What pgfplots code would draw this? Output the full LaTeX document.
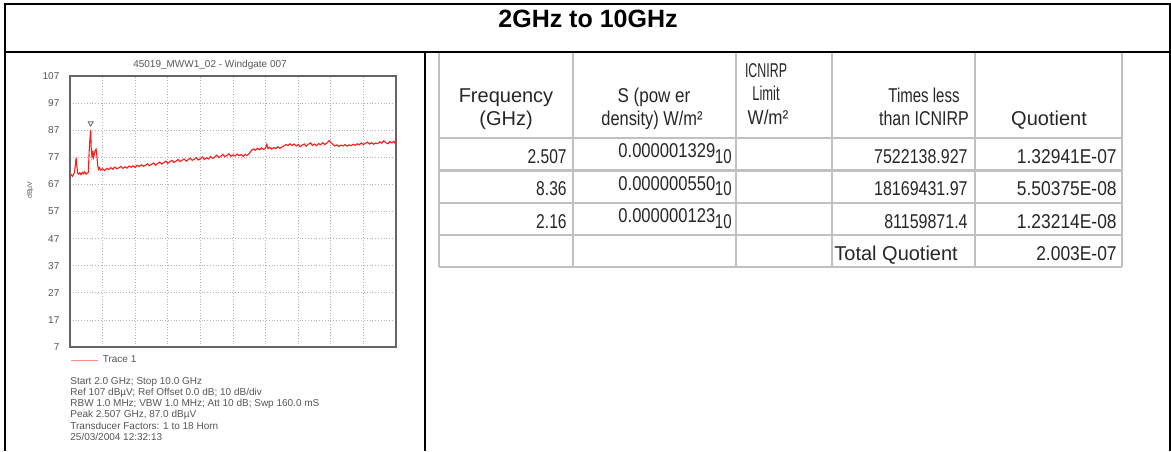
\documentclass[border=0pt]{standalone}
\usepackage{graphicx}
\usepackage{pgfplots}
\pgfplotsset{compat=1.18}
\usepackage{fontspec}
\setmainfont{Liberation Sans}
\definecolor{trace}{HTML}{FF1A1A}
\definecolor{tgrid}{HTML}{C0C0C0}
\definecolor{lab}{HTML}{555555}
\pgfplotstableread{
x y
2.00 70.2
2.03 70.6
2.06 70.0
2.09 70.8
2.11 71.5
2.13 74.0
2.15 76.8
2.17 73.5
2.19 71.2
2.21 70.8
2.24 71.3
2.27 70.6
2.30 71.4
2.33 70.9
2.36 71.6
2.39 70.8
2.42 71.2
2.45 71.5
2.47 79.0
2.49 84.0
2.507 87.0
2.52 80.5
2.54 77.2
2.56 78.8
2.58 77.0
2.60 78.5
2.62 79.6
2.64 80.0
2.66 77.5
2.68 74.0
2.70 72.6
2.72 73.2
2.75 72.3
2.80 72.8
2.85 72.1
2.90 72.9
2.95 72.5
3.00 73.2
3.05 72.6
3.10 73.4
3.15 72.8
3.20 73.1
3.25 73.7
3.30 72.9
3.35 73.5
3.40 73.0
3.45 73.8
3.50 73.3
3.55 73.9
3.60 73.2
3.65 74.1
3.70 73.6
3.75 74.3
3.80 73.7
3.85 74.0
3.90 74.6
3.95 73.9
4.00 74.4
4.05 74.9
4.10 74.1
4.15 74.7
4.20 75.2
4.25 74.5
4.30 75.0
4.35 75.6
4.40 74.8
4.45 75.3
4.50 75.9
4.55 75.1
4.60 75.6
4.65 76.2
4.70 75.4
4.75 75.9
4.80 76.4
4.85 75.6
4.90 76.1
4.95 76.7
5.00 75.9
5.05 76.3
5.10 76.9
5.15 76.0
5.20 76.5
5.25 77.1
5.30 76.2
5.35 76.8
5.40 76.4
5.45 77.3
5.50 76.6
5.55 77.0
5.60 77.8
5.65 76.9
5.70 77.4
5.75 78.1
5.80 77.2
5.85 77.7
5.90 78.3
5.95 77.4
6.00 77.9
6.05 77.5
6.10 78.2
6.15 77.6
6.20 78.0
6.25 77.3
6.30 78.1
6.35 77.7
6.40 78.4
6.45 79.5
6.50 80.1
6.55 79.6
6.60 80.3
6.65 79.8
6.70 80.5
6.75 79.9
6.80 80.4
6.83 81.8
6.86 80.2
6.90 80.7
6.95 80.0
7.00 80.6
7.05 80.2
7.10 80.9
7.15 80.3
7.20 80.8
7.25 81.2
7.30 81.7
7.35 81.3
7.40 82.0
7.45 81.4
7.50 81.9
7.55 81.2
7.60 81.7
7.65 80.9
7.70 81.5
7.75 81.9
7.80 81.1
7.85 81.8
7.90 82.3
7.95 81.4
8.00 81.9
8.05 81.3
8.10 82.1
8.15 81.6
8.20 82.4
8.25 81.7
8.30 82.2
8.36 83.2
8.40 82.4
8.45 81.8
8.50 81.2
8.55 81.6
8.60 81.0
8.65 81.5
8.70 81.2
8.75 81.7
8.80 81.1
8.85 81.6
8.90 81.3
8.95 81.8
9.00 81.4
9.05 82.0
9.10 81.6
9.15 82.3
9.20 81.7
9.25 82.2
9.30 82.6
9.35 81.9
9.40 82.4
9.45 81.8
9.50 82.3
9.55 82.0
9.60 82.7
9.65 82.2
9.70 83.1
9.75 82.4
9.80 82.0
9.85 82.8
9.90 82.3
9.95 82.9
10.00 81.6
}\tracedata
\newcommand\tf{\fontsize{10}{12}\selectfont}
\newcommand\cf{\fontsize{5}{6}\selectfont}
\newcommand\sx[2]{\scalebox{#1}[1]{#2}}
\begin{document}
\begin{tikzpicture}
\begin{scope}[x=0.5pt,y=-0.5pt]
\path[use as bounding box] (0,0) rectangle (1171,451);
% table grid
\foreach \x in {439,573,736,832,975,1122} \draw[tgrid, line width=1.2pt] (\x,53) -- (\x,267);
\foreach \y in {138,170.5,203,235,267} \draw[tgrid, line width=1.2pt] (439,\y) -- (1122,\y);
% black frame
\draw[line width=1pt] (5,451) -- (5,4) -- (1169.5,4) -- (1169.5,451);
\draw[line width=1pt] (5,52) -- (1169.5,52);
\draw[line width=1pt] (425,52) -- (425,451);
\node[font=\bfseries\fontsize{12.5}{14}\selectfont, anchor=base, inner sep=0pt] at (588,27) {2GHz to 10GHz};
% table header
\begin{scope}[every node/.style={font=\tf, inner sep=0pt, text=black!85}]
\node[anchor=base] at (506,102) {Frequency};
\node[anchor=base] at (506,125) {(GHz)};
\node[anchor=base] at (654,102) {\sx{0.85}{S (pow er}};
\node[anchor=base] at (652,125) {\sx{0.82}{density) W/m²}};
\node[anchor=base] at (766,77) {\sx{0.62}{ICNIRP}};
\node[anchor=base] at (766,100.5) {\sx{0.65}{Limit}};
\node[anchor=base] at (768,124.5) {\sx{0.85}{W/m²}};
\node[anchor=base] at (924,102) {\sx{0.75}{Times less}};
\node[anchor=base] at (924,125) {\sx{0.8}{than ICNIRP}};
\node[anchor=base] at (1049,125) {Quotient};
% rows
\node[anchor=base east] at (567,163) {\sx{0.78}{2.507}};
\node[anchor=base east] at (567,195.5) {\sx{0.78}{8.36}};
\node[anchor=base east] at (567,228) {\sx{0.78}{2.16}};
\node[anchor=base west] at (618,157.5) {\sx{0.83}{0.000001329}};
\node[anchor=base west] at (618,190) {\sx{0.83}{0.000000550}};
\node[anchor=base west] at (618,222.5) {\sx{0.83}{0.000000123}};
\node[anchor=base east] at (732,163) {\sx{0.75}{10}};
\node[anchor=base east] at (732,195.5) {\sx{0.75}{10}};
\node[anchor=base east] at (732,228) {\sx{0.75}{10}};
\node[anchor=base east] at (968,163) {\sx{0.8}{7522138.927}};
\node[anchor=base east] at (968,195.5) {\sx{0.8}{18169431.97}};
\node[anchor=base east] at (968,228) {\sx{0.8}{81159871.4}};
\node[anchor=base east] at (1117,163) {\sx{0.87}{1.32941E-07}};
\node[anchor=base east] at (1117,195.5) {\sx{0.87}{5.50375E-08}};
\node[anchor=base east] at (1117,228) {\sx{0.87}{1.23214E-08}};
\node[anchor=base west] at (834,260) {Total Quotient};
\node[anchor=base east] at (1117,260) {\sx{0.87}{2.003E-07}};
\end{scope}
% chart texts
\begin{scope}[every node/.style={font=\cf, inner sep=0pt, text=lab}]
\node at (210,65) {45019\_MWW1\_02 - Windgate 007};
\node[rotate=90, font=\fontsize{3.5}{4}\selectfont] at (30,190) {dBµV};
\node[anchor=west] at (70,382) {Start 2.0 GHz; Stop 10.0 GHz};
\node[anchor=west] at (70,393) {Ref 107 dBµV; Ref Offset 0.0 dB; 10 dB/div};
\node[anchor=west] at (70,404) {RBW 1.0 MHz; VBW 1.0 MHz; Att 10 dB; Swp 160.0 mS};
\node[anchor=west] at (70,415) {Peak 2.507 GHz, 87.0 dBµV};
\node[anchor=west] at (70,426) {Transducer Factors: 1 to 18 Horn};
\node[anchor=west] at (70,437) {25/03/2004 12:32:13};
\end{scope}
\end{scope}
\begin{axis}[
  at={(35pt,-173.5pt)}, anchor=south west,
  scale only axis, width=163pt, height=135.5pt,
  xmin=2, xmax=10, ymin=7, ymax=107,
  xtick={2.8,3.6,4.4,5.2,6,6.8,7.6,8.4,9.2}, xticklabels={},
  ytick={7,17,27,37,47,57,67,77,87,97,107},
  major tick length=0pt,
  grid=major, grid style={densely dotted, black!30, line width=0.4pt},
  axis line style={black!60, line width=0.9pt},
  tick label style={font=\cf, text=lab},
  yticklabel style={xshift=-1.8pt},
  /pgf/number format/assume math mode=true,
  legend style={at={(0,0)}, anchor=north west, yshift=-2pt, draw=none, fill=none,
    inner sep=0pt, font=\cf, text=lab, legend cell align=left},
  legend image code/.code={\draw[#1] (0pt,0pt) -- (13.5pt,0pt);},
]
\addplot[trace, line width=0.55pt, forget plot] table[x=x,y=y] {\tracedata};
\addplot[only marks, mark=triangle, mark size=1.5pt, mark options={rotate=180, draw=black!60, fill=white, line width=0.4pt}, forget plot] coordinates {(2.507,89.6)};
\addlegendimage{color=red!45, line width=0.7pt}
\addlegendentry{Trace 1}
\end{axis}
\end{tikzpicture}
\end{document}
